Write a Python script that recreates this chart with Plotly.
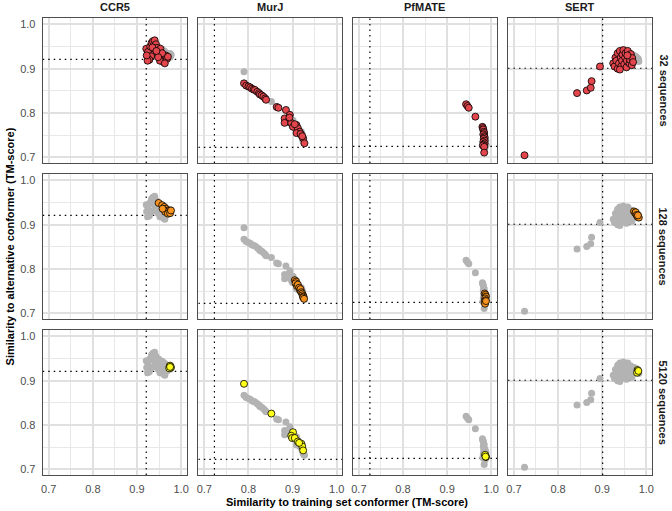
import plotly.graph_objects as go
from plotly.subplots import make_subplots

proteins = ["CCR5", "MurJ", "PfMATE", "SERT"]
depths = ["32 sequences", "128 sequences", "5120 sequences"]
depth_colors = ["#e3474d", "#f7931e", "#ffff1a"]

# TM-score between the two conformers (dotted reference lines)
ref_tm = [0.921, 0.723, 0.725, 0.901]

# ---- CCR5 ----
ccr5_32_x = [0.921, 0.925, 0.930, 0.933, 0.936, 0.940, 0.943, 0.945, 0.942, 0.938,
             0.932, 0.928, 0.924, 0.947, 0.950, 0.953, 0.955, 0.958, 0.960, 0.962,
             0.965, 0.968, 0.970, 0.957, 0.952, 0.948, 0.963, 0.935, 0.922, 0.944]
ccr5_32_y = [0.945, 0.938, 0.950, 0.958, 0.962, 0.964, 0.955, 0.947, 0.940, 0.932,
             0.928, 0.920, 0.918, 0.935, 0.930, 0.945, 0.925, 0.920, 0.915, 0.928,
             0.930, 0.922, 0.927, 0.935, 0.918, 0.926, 0.912, 0.948, 0.930, 0.940]
ccr5_128_x = [0.949, 0.957, 0.962, 0.966, 0.970, 0.973, 0.964, 0.970, 0.975, 0.977, 0.958]
ccr5_128_y = [0.949, 0.944, 0.940, 0.936, 0.932, 0.931, 0.929, 0.925, 0.926, 0.932, 0.936]
ccr5_5120_x = [0.974, 0.976, 0.975, 0.977, 0.973, 0.975]
ccr5_5120_y = [0.932, 0.929, 0.934, 0.930, 0.928, 0.931]

# ---- MurJ ----
murj_32_x = [0.790, 0.795, 0.800, 0.804, 0.808, 0.812, 0.815, 0.820, 0.824, 0.826,
             0.830, 0.834, 0.838, 0.840, 0.864, 0.868, 0.885, 0.882, 0.894, 0.890,
             0.882, 0.897, 0.901, 0.909, 0.912, 0.916, 0.909, 0.920, 0.924, 0.927,
             0.918, 0.893, 0.905, 0.922]
murj_32_y = [0.867, 0.862, 0.860, 0.858, 0.855, 0.853, 0.852, 0.848, 0.845, 0.842,
             0.840, 0.837, 0.833, 0.830, 0.814, 0.812, 0.807, 0.788, 0.796, 0.781,
             0.778, 0.778, 0.769, 0.773, 0.766, 0.758, 0.755, 0.751, 0.743, 0.732,
             0.753, 0.790, 0.775, 0.748]
murj_128_x = [0.905, 0.908, 0.907, 0.910, 0.912, 0.915, 0.917, 0.918, 0.920, 0.922,
              0.923, 0.925, 0.924, 0.926]
murj_128_y = [0.775, 0.772, 0.768, 0.762, 0.765, 0.758, 0.752, 0.755, 0.748, 0.745,
              0.741, 0.738, 0.736, 0.733]
murj_5120_x = [0.790, 0.852, 0.901, 0.897, 0.899, 0.905, 0.912, 0.920, 0.922, 0.924, 0.915]
murj_5120_y = [0.893, 0.826, 0.784, 0.776, 0.771, 0.771, 0.763, 0.758, 0.752, 0.743, 0.760]

# ---- PfMATE ----
pfmate_32_x = [0.943, 0.946, 0.949, 0.964, 0.980, 0.981, 0.982, 0.983, 0.984, 0.982,
               0.984, 0.985, 0.983, 0.985, 0.982, 0.985, 0.983, 0.981, 0.984, 0.984]
pfmate_32_y = [0.820, 0.816, 0.812, 0.792, 0.769, 0.766, 0.763, 0.758, 0.755, 0.752,
               0.748, 0.745, 0.742, 0.738, 0.735, 0.732, 0.729, 0.727, 0.724, 0.711]
pfmate_128_x = [0.985, 0.987, 0.988, 0.986, 0.987, 0.985, 0.986, 0.988]
pfmate_128_y = [0.745, 0.742, 0.738, 0.734, 0.730, 0.726, 0.722, 0.728]
pfmate_5120_x = [0.987, 0.988, 0.986, 0.987]
pfmate_5120_y = [0.731, 0.728, 0.733, 0.729]

# ---- SERT ----
sert_32_x = [0.724, 0.843, 0.865, 0.874, 0.876, 0.895,
             0.925, 0.928, 0.930, 0.932, 0.935, 0.935, 0.938, 0.940, 0.942, 0.943,
             0.945, 0.946, 0.948, 0.950, 0.952, 0.953, 0.955, 0.956, 0.958, 0.960,
             0.962, 0.963, 0.965, 0.967, 0.968, 0.970, 0.940, 0.957]
sert_32_y = [0.705, 0.845, 0.851, 0.857, 0.872, 0.905,
             0.912, 0.905, 0.925, 0.918, 0.900, 0.935, 0.912, 0.940, 0.925, 0.905,
             0.918, 0.932, 0.942, 0.910, 0.925, 0.935, 0.903, 0.918, 0.940, 0.928,
             0.912, 0.920, 0.933, 0.908, 0.924, 0.915, 0.898, 0.930]
sert_128_x = [0.972, 0.975, 0.976, 0.978, 0.980, 0.983, 0.981]
sert_128_y = [0.930, 0.926, 0.928, 0.922, 0.918, 0.916, 0.921]
sert_5120_x = [0.980, 0.981, 0.979, 0.982]
sert_5120_y = [0.924, 0.920, 0.918, 0.922]

data = {
    "CCR5": [(ccr5_32_x, ccr5_32_y), (ccr5_128_x, ccr5_128_y), (ccr5_5120_x, ccr5_5120_y)],
    "MurJ": [(murj_32_x, murj_32_y), (murj_128_x, murj_128_y), (murj_5120_x, murj_5120_y)],
    "PfMATE": [(pfmate_32_x, pfmate_32_y), (pfmate_128_x, pfmate_128_y), (pfmate_5120_x, pfmate_5120_y)],
    "SERT": [(sert_32_x, sert_32_y), (sert_128_x, sert_128_y), (sert_5120_x, sert_5120_y)],
}

W, H = 672, 511
col_left = [41, 197.5, 353, 509]
row_top = [18, 174, 330]
pw, ph = 145, 145
x_range = [0.6865, 1.0131]
y_range = [0.6876, 1.0142]
font = "Liberation Sans, Arial, sans-serif"


def px_x(p):
    return p / W


def px_y(p):
    return 1 - p / H


fig = make_subplots(rows=3, cols=4)

for c, prot in enumerate(proteins, start=1):
    all_x = sum((list(s[0]) for s in data[prot]), [])
    all_y = sum((list(s[1]) for s in data[prot]), [])
    ref = ref_tm[c - 1]
    for r in range(1, 4):
        # dotted reference lines under the points
        for lx, ly in (([ref, ref], y_range), (x_range, [ref, ref])):
            fig.add_trace(go.Scatter(
                x=lx, y=ly, mode="lines",
                line=dict(color="black", width=1.2, dash="1.5px,4px"),
                showlegend=False, hoverinfo="skip"), row=r, col=c)
        fig.add_trace(go.Scatter(
            x=all_x, y=all_y, mode="markers",
            marker=dict(size=7, color="#b3b3b3"),
            showlegend=False, hoverinfo="skip"), row=r, col=c)
        sx, sy = data[prot][r - 1]
        fig.add_trace(go.Scatter(
            x=sx, y=sy, mode="markers",
            marker=dict(size=7, color=depth_colors[r - 1],
                        line=dict(width=0.8, color="black")),
            showlegend=False), row=r, col=c)

        x0 = px_x(col_left[c - 1])
        y1 = px_y(row_top[r - 1])
        grid = dict(showgrid=True, gridcolor="#e0e0e0", gridwidth=1.7,
                    minor=dict(dtick=0.05, tick0=0.7, showgrid=True,
                               gridcolor="#e8e8e8", gridwidth=1.3),
                    showline=True, mirror=True, linecolor="#4d4d4d", linewidth=1.2,
                    zeroline=False, ticks="", ticklabelstandoff=4,
                    tickfont=dict(size=11, color="#4d4d4d", family=font),
                    dtick=0.1, tick0=0.7, tickformat=".1f")
        fig.update_xaxes(domain=[x0, x0 + pw / W], range=x_range,
                         showticklabels=(r == 3), row=r, col=c, **grid)
        fig.update_yaxes(domain=[y1 - ph / H, y1], range=y_range,
                         showticklabels=(c == 1), row=r, col=c, **grid)

annotations = []
for c, prot in enumerate(proteins):
    annotations.append(dict(text=f"<b>{prot}</b>", x=px_x(col_left[c] + pw / 2), y=px_y(7),
                            xref="paper", yref="paper", showarrow=False,
                            xanchor="center", yanchor="middle",
                            font=dict(size=11, color="#1a1a1a", family=font)))
for r, d in enumerate(depths):
    annotations.append(dict(text=f"<b>{d}</b>", x=px_x(665), y=px_y(row_top[r] + ph / 2),
                            xref="paper", yref="paper", showarrow=False, textangle=90,
                            xanchor="center", yanchor="middle",
                            font=dict(size=11, color="#1a1a1a", family=font)))
annotations.append(dict(text="<b>Similarity to training set conformer (TM-score)</b>",
                        x=px_x((col_left[0] + col_left[3] + pw) / 2), y=px_y(502),
                        xref="paper", yref="paper", showarrow=False,
                        xanchor="center", yanchor="middle",
                        font=dict(size=11, color="black", family=font)))
annotations.append(dict(text="<b>Similarity to alternative conformer (TM-score)</b>",
                        x=px_x(8), y=px_y((row_top[0] + row_top[2] + ph) / 2),
                        xref="paper", yref="paper", showarrow=False, textangle=-90,
                        xanchor="center", yanchor="middle",
                        font=dict(size=11, color="black", family=font)))

fig.update_layout(
    width=W, height=H,
    margin=dict(l=0, r=0, t=0, b=0),
    paper_bgcolor="white", plot_bgcolor="white",
    annotations=annotations,
    font=dict(family=font),
)

# drop the browser's default page margin so the figure sits at the window corner
fig.write_html("out.html", config={"displayModeBar": False},
               post_script="document.body.style.margin = '0';")
